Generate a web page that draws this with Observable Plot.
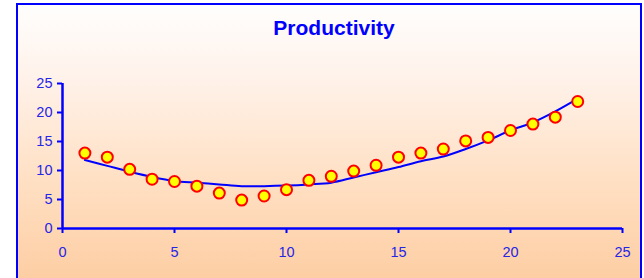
<!DOCTYPE html>
<html>
<head>
<meta charset="utf-8">
<script src="https://cdn.jsdelivr.net/npm/d3@7"></script>
<script src="https://cdn.jsdelivr.net/npm/@observablehq/plot@0.6"></script>
<style>
  html, body { margin: 0; padding: 0; background: #ffffff; }
  #wrap { position: relative; width: 644px; height: 278px; overflow: hidden; }
  #panel {
    position: absolute; left: 16px; top: 3px; width: 622px; height: 290px;
    border: 2px solid #0000ff;
    background: linear-gradient(to bottom, #fffefd 0%, #fff2ea 25%, #ffe0c4 60%, #fdcb9e 100%);
  }
  #title {
    position: absolute; left: 10px; width: 648px; top: 16px; text-align: center;
    font-family: "Liberation Sans", Arial, sans-serif; font-weight: bold;
    font-size: 21px; color: #0000ff;
  }
  #chart { position: absolute; left: 0; top: 0; }
</style>
</head>
<body>
<div id="wrap">
  <div id="panel"></div>
  <div id="title">Productivity</div>
  <div id="chart"></div>
</div>
<script>
const xValues = [1,2,3,4,5,6,7,8,9,10,11,12,13,14,15,16,17,18,19,20,21,22,23];
const productivity = [13.0,12.3,10.2,8.5,8.1,7.3,6.1,4.9,5.6,6.7,8.3,9.0,9.9,10.9,12.3,13.0,13.7,15.1,15.7,16.9,18.0,19.2,21.9];
const trend = [11.8,10.8,9.8,8.9,8.2,7.9,7.6,7.3,7.3,7.4,7.6,7.9,8.8,9.7,10.6,11.6,12.4,13.7,15.2,16.9,18.3,20.2,22.4];
const ticks = [0,5,10,15,20,25];

const pts = xValues.map((x, i) => ({x, y: productivity[i]}));
const line = xValues.map((x, i) => ({x, y: trend[i]}));

const labelColor = "#2525e6";
const plot = Plot.plot({
  width: 644, height: 278,
  marginLeft: 62, marginRight: 22, marginTop: 83, marginBottom: 50,
  style: {background: "transparent", fontFamily: "'Liberation Sans', Arial, sans-serif", fontSize: "14.5px"},
  x: {domain: [0, 25]},
  y: {domain: [0, 25]},
  marks: [
    Plot.axisX({ticks, tickSize: 5, tickPadding: 13, stroke: "#0000ff", strokeWidth: 2, fill: labelColor, label: null, fontSize: 14.5}),
    Plot.axisY({ticks, tickSize: 5, tickPadding: 5, stroke: "#0000ff", strokeWidth: 2, fill: labelColor, label: null, fontSize: 14.5}),
    Plot.ruleY([0], {stroke: "#0000ff", strokeWidth: 2.5}),
    Plot.ruleX([0], {stroke: "#0000ff", strokeWidth: 2.5}),
    Plot.line(line, {x: "x", y: "y", stroke: "#0000ff", strokeWidth: 2, curve: "catmull-rom"}),
    Plot.dot(pts, {x: "x", y: "y", r: 5.5, fill: "#ffff00", stroke: "#ff0000", strokeWidth: 2})
  ]
});
document.getElementById("chart").appendChild(plot);
</script>
</body>
</html>
